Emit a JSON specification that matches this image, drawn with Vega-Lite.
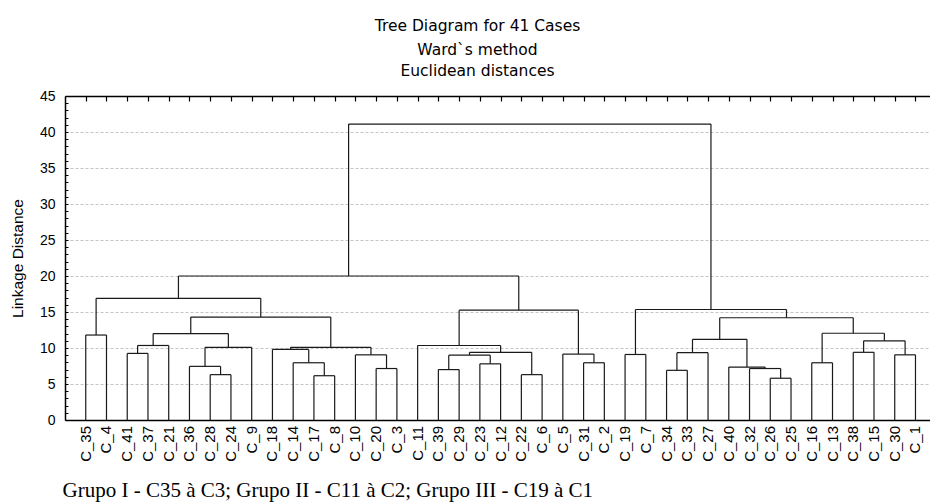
{
  "$schema": "https://vega.github.io/schema/vega-lite/v6.json",
  "autosize": "none",
  "width": 865,
  "height": 324,
  "padding": {"left": 65, "top": 96, "right": 0, "bottom": 83},
  "background": "white",
  "config": {"view": {"stroke": null}, "font": "Liberation Sans"},
  "title": {
    "text": "Tree Diagram for 41 Cases",
    "subtitle": ["Ward`s method", "Euclidean distances"],
    "anchor": "middle",
    "frame": "group",
    "dx": -20,
    "offset": 10,
    "font": "DejaVu Sans",
    "fontSize": 15.5,
    "fontWeight": "normal",
    "color": "black",
    "subtitleFont": "DejaVu Sans",
    "subtitleFontSize": 15.5,
    "subtitleColor": "black",
    "subtitleLineHeight": 21,
    "subtitlePadding": 8
  },
  "datasets": {
    "merges": [
      {"xl": 1, "hl": 0, "xr": 2, "hr": 0, "h": 11.8},
      {"xl": 3, "hl": 0, "xr": 4, "hr": 0, "h": 9.25},
      {"xl": 3.5, "hl": 9.25, "xr": 5, "hr": 0, "h": 10.35},
      {"xl": 7, "hl": 0, "xr": 8, "hr": 0, "h": 6.3},
      {"xl": 6, "hl": 0, "xr": 7.5, "hr": 6.3, "h": 7.45},
      {"xl": 6.75, "hl": 7.45, "xr": 9, "hr": 0, "h": 10.1},
      {"xl": 4.25, "hl": 10.35, "xr": 7.875, "hr": 10.1, "h": 12.0},
      {"xl": 12, "hl": 0, "xr": 13, "hr": 0, "h": 6.15},
      {"xl": 11, "hl": 0, "xr": 12.5, "hr": 6.15, "h": 7.95},
      {"xl": 10, "hl": 0, "xr": 11.75, "hr": 7.95, "h": 9.8},
      {"xl": 15, "hl": 0, "xr": 16, "hr": 0, "h": 7.15},
      {"xl": 14, "hl": 0, "xr": 15.5, "hr": 7.15, "h": 9.05},
      {"xl": 10.875, "hl": 9.8, "xr": 14.75, "hr": 9.05, "h": 10.1},
      {"xl": 6.0625, "hl": 12.0, "xr": 12.8125, "hr": 10.1, "h": 14.3},
      {"xl": 1.5, "hl": 11.8, "xr": 9.4375, "hr": 14.3, "h": 16.9},
      {"xl": 18, "hl": 0, "xr": 19, "hr": 0, "h": 7.0},
      {"xl": 20, "hl": 0, "xr": 21, "hr": 0, "h": 7.8},
      {"xl": 18.5, "hl": 7.0, "xr": 20.5, "hr": 7.8, "h": 9.0},
      {"xl": 22, "hl": 0, "xr": 23, "hr": 0, "h": 6.3},
      {"xl": 19.5, "hl": 9.0, "xr": 22.5, "hr": 6.3, "h": 9.4},
      {"xl": 17, "hl": 0, "xr": 21, "hr": 9.4, "h": 10.35},
      {"xl": 25, "hl": 0, "xr": 26, "hr": 0, "h": 7.95},
      {"xl": 24, "hl": 0, "xr": 25.5, "hr": 7.95, "h": 9.15},
      {"xl": 19, "hl": 10.35, "xr": 24.75, "hr": 9.15, "h": 15.25},
      {"xl": 5.46875, "hl": 16.9, "xr": 21.875, "hr": 15.25, "h": 20.0},
      {"xl": 27, "hl": 0, "xr": 28, "hr": 0, "h": 9.1},
      {"xl": 29, "hl": 0, "xr": 30, "hr": 0, "h": 6.9},
      {"xl": 29.5, "hl": 6.9, "xr": 31, "hr": 0, "h": 9.35},
      {"xl": 34, "hl": 0, "xr": 35, "hr": 0, "h": 5.8},
      {"xl": 33, "hl": 0, "xr": 34.5, "hr": 5.8, "h": 7.15},
      {"xl": 32, "hl": 0, "xr": 33.75, "hr": 7.15, "h": 7.35},
      {"xl": 30.25, "hl": 9.35, "xr": 32.875, "hr": 7.35, "h": 11.2},
      {"xl": 36, "hl": 0, "xr": 37, "hr": 0, "h": 7.95},
      {"xl": 38, "hl": 0, "xr": 39, "hr": 0, "h": 9.4},
      {"xl": 40, "hl": 0, "xr": 41, "hr": 0, "h": 9.05},
      {"xl": 38.5, "hl": 9.4, "xr": 40.5, "hr": 9.05, "h": 11.0},
      {"xl": 36.5, "hl": 7.95, "xr": 39.5, "hr": 11.0, "h": 12.05},
      {"xl": 31.5625, "hl": 11.2, "xr": 38, "hr": 12.05, "h": 14.2},
      {"xl": 27.5, "hl": 9.1, "xr": 34.78125, "hr": 14.2, "h": 15.35},
      {"xl": 13.671875, "hl": 20.0, "xr": 31.140625, "hr": 15.35, "h": 41.1}
    ],
    "leaves": [
      {"pos": 1, "name": "C_35"}, {"pos": 2, "name": "C_4"}, {"pos": 3, "name": "C_41"},
      {"pos": 4, "name": "C_37"}, {"pos": 5, "name": "C_21"}, {"pos": 6, "name": "C_36"},
      {"pos": 7, "name": "C_28"}, {"pos": 8, "name": "C_24"}, {"pos": 9, "name": "C_9"},
      {"pos": 10, "name": "C_18"}, {"pos": 11, "name": "C_14"}, {"pos": 12, "name": "C_17"},
      {"pos": 13, "name": "C_8"}, {"pos": 14, "name": "C_10"}, {"pos": 15, "name": "C_20"},
      {"pos": 16, "name": "C_3"}, {"pos": 17, "name": "C_11"}, {"pos": 18, "name": "C_39"},
      {"pos": 19, "name": "C_29"}, {"pos": 20, "name": "C_23"}, {"pos": 21, "name": "C_12"},
      {"pos": 22, "name": "C_22"}, {"pos": 23, "name": "C_6"}, {"pos": 24, "name": "C_5"},
      {"pos": 25, "name": "C_31"}, {"pos": 26, "name": "C_2"}, {"pos": 27, "name": "C_19"},
      {"pos": 28, "name": "C_7"}, {"pos": 29, "name": "C_34"}, {"pos": 30, "name": "C_33"},
      {"pos": 31, "name": "C_27"}, {"pos": 32, "name": "C_40"}, {"pos": 33, "name": "C_32"},
      {"pos": 34, "name": "C_26"}, {"pos": 35, "name": "C_25"}, {"pos": 36, "name": "C_16"},
      {"pos": 37, "name": "C_13"}, {"pos": 38, "name": "C_38"}, {"pos": 39, "name": "C_15"},
      {"pos": 40, "name": "C_30"}, {"pos": 41, "name": "C_1"}
    ]
  },
  "resolve": {"axis": {"x": "independent", "y": "independent"}},
  "layer": [
    {
      "data": {"name": "merges"},
      "mark": {"type": "rule", "color": "#1a1a1a", "strokeWidth": 1.2},
      "encoding": {
        "x": {
          "field": "xl", "type": "quantitative",
          "scale": {"domain": [0, 41.7], "nice": false, "zero": false},
          "axis": {
            "orient": "bottom",
            "domain": true, "domainColor": "black", "domainWidth": 1.5,
            "ticks": false, "labels": false, "grid": false,
            "title": "Grupo I - C35 à C3; Grupo II - C11 à C2; Grupo III - C19 à C1",
            "titleFont": "Liberation Serif", "titleFontSize": 21, "titleFontWeight": "normal",
            "titleColor": "black", "titleAnchor": "start", "titleAlign": "left",
            "titleBaseline": "alphabetic", "titleX": -3, "titleY": 76
          }
        },
        "x2": {"field": "xr"},
        "y": {
          "field": "h", "type": "quantitative",
          "scale": {"domain": [0, 45], "nice": false, "zero": true},
          "axis": {
            "orient": "left",
            "values": [0,1,2,3,4,5,6,7,8,9,10,11,12,13,14,15,16,17,18,19,20,21,22,23,24,25,26,27,28,29,30,31,32,33,34,35,36,37,38,39,40,41,42,43,44,45],
            "labelExpr": "datum.value % 5 === 0 ? datum.label : ''",
            "labelOverlap": false, "labelFlush": false,
            "labelFont": "Liberation Sans", "labelFontSize": 14, "labelColor": "black",
            "labelPadding": 13,
            "tickSize": -3, "tickColor": "black", "tickWidth": 1,
            "domain": true, "domainColor": "black", "domainWidth": 1.5,
            "grid": true, "gridColor": "#c4c4c4", "gridDash": [3, 2], "gridWidth": 1,
            "gridOpacity": {"condition": {"test": "datum.value % 5 === 0 && datum.value > 0 && datum.value < 45", "value": 1}, "value": 0},
            "title": "Linkage Distance",
            "titleFont": "Liberation Sans", "titleFontSize": 15.5, "titleFontWeight": "normal",
            "titleColor": "black", "titlePadding": 14
          }
        }
      }
    },
    {
      "data": {"name": "merges"},
      "mark": {"type": "rule", "color": "#1a1a1a", "strokeWidth": 1.2},
      "encoding": {
        "x": {
          "field": "xl", "type": "quantitative",
          "axis": {
            "orient": "top",
            "values": [1,2,3,4,5,6,7,8,9,10,11,12,13,14,15,16,17,18,19,20,21,22,23,24,25,26,27,28,29,30,31,32,33,34,35,36,37,38,39,40,41],
            "labels": false, "grid": false, "title": null,
            "domain": true, "domainColor": "black", "domainWidth": 1.5,
            "ticks": true, "tickSize": -5, "tickColor": "black", "tickWidth": 1.2
          }
        },
        "y": {"field": "hl", "type": "quantitative", "axis": null},
        "y2": {"field": "h"}
      }
    },
    {
      "data": {"name": "merges"},
      "mark": {"type": "rule", "color": "#1a1a1a", "strokeWidth": 1.2},
      "encoding": {
        "x": {"field": "xr", "type": "quantitative", "axis": null},
        "y": {"field": "hr", "type": "quantitative", "axis": null},
        "y2": {"field": "h"}
      }
    },
    {
      "data": {"name": "leaves"},
      "mark": {"type": "text", "angle": 270, "align": "right", "baseline": "middle", "font": "Liberation Sans", "fontSize": 15, "color": "black", "yOffset": 6},
      "encoding": {
        "x": {"field": "pos", "type": "quantitative", "axis": null},
        "y": {"datum": 0, "type": "quantitative", "axis": null},
        "text": {"field": "name"}
      }
    }
  ]
}
